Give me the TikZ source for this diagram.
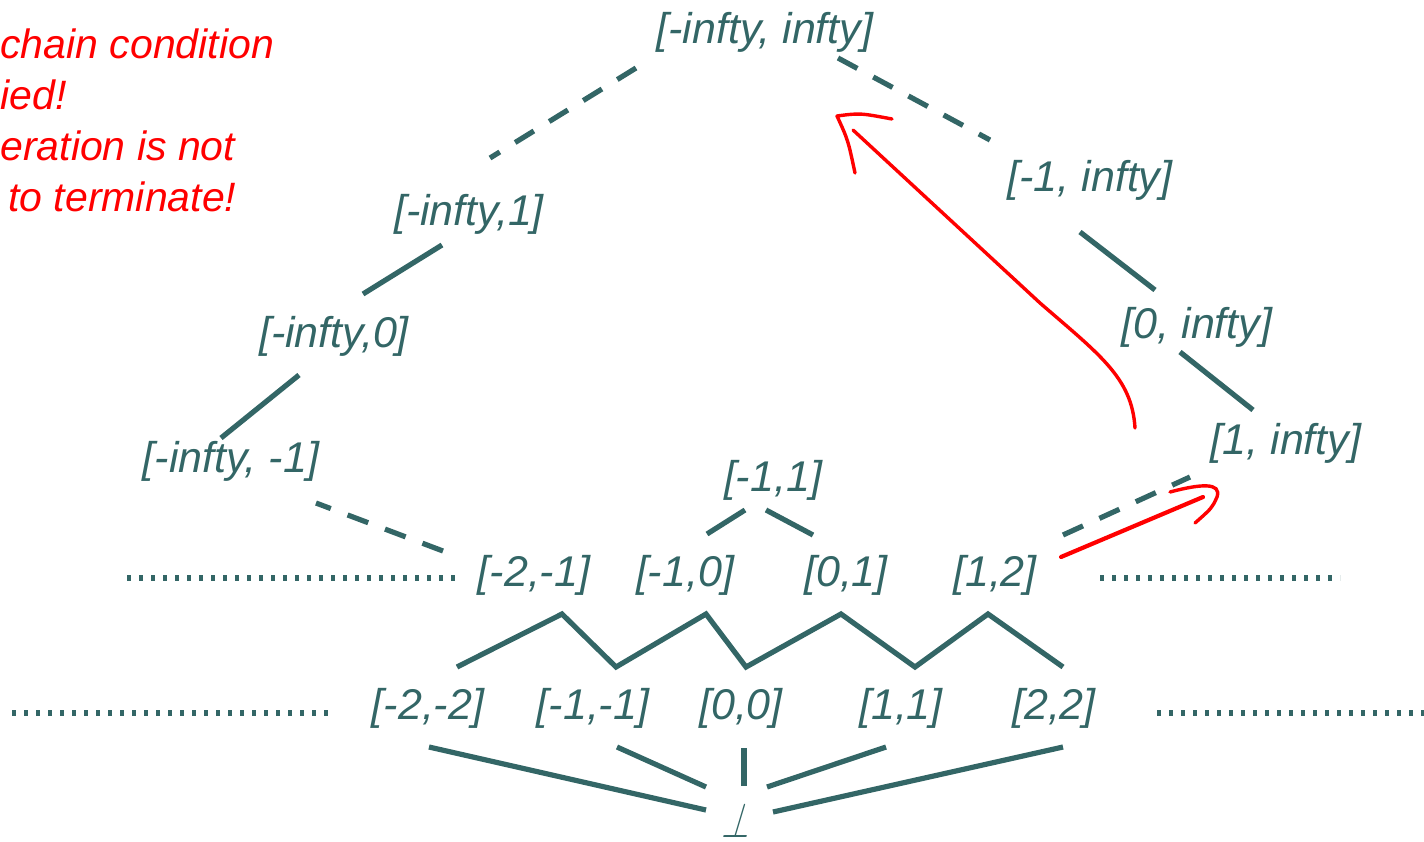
\documentclass[tikz,border=0pt]{standalone}
\usepackage{fontspec}
\setmainfont{Liberation Sans}
\usepackage{xcolor}
\definecolor{latteal}{RGB}{51,102,102}
\definecolor{latred}{RGB}{255,0,0}
\usetikzlibrary{calc}

\begin{document}
\begin{tikzpicture}[
  x=0.5pt,y=-0.5pt,
  elem/.style={text=latteal,font=\fontsize{21.5}{26}\selectfont\itshape,inner sep=0pt},
  edge/.style={draw=latteal,line width=2.6pt},
  dashedge/.style={edge,dash pattern=on 11pt off 9pt},
  dotedge/.style={edge,dash pattern=on 2.2pt off 3.8pt},
  note/.style={text=latred,font=\fontsize{20.5}{25.5}\selectfont\itshape,align=left,inner sep=0pt},
  ink/.style={draw=latred,line width=1.7pt,line cap=round,line join=round}
]
\useasboundingbox (0,0) rectangle (1424,841);
% Remark
\node[note,anchor=north west] (remark) at (0,28) {chain condition\\ied!\\eration is not\\\hspace*{4pt}to terminate!};
% Ascending chains
\node[elem] (top) at (765,32) {[-infty, infty]};
\node[elem] (lo1) at (469,214) {[-infty,1]};
\node[elem] (lo0) at (334,336) {[-infty,0]};
\node[elem] (lom1) at (231,461) {[-infty, -1]};
\node[elem] (upm1) at (1090,180) {[-1, infty]};
\node[elem] (up0) at (1197,327) {[0, infty]};
\node[elem] (up1) at (1286,443) {[1, infty]};
% Intervals of length one and two
\node[elem] (i11) at (773,480) {[-1,1]};
\node[elem] (i21) at (534,575) {[-2,-1]};
\node[elem] (i10) at (685,575) {[-1,0]};
\node[elem] (i01) at (846,575) {[0,1]};
\node[elem] (i12) at (995,575) {[1,2]};
% Singletons
\node[elem] (bm2) at (428,708) {[-2,-2]};
\node[elem] (bm1) at (593,708) {[-1,-1]};
\node[elem] (b0) at (741,708) {[0,0]};
\node[elem] (b1) at (901,708) {[1,1]};
\node[elem] (b2) at (1054,708) {[2,2]};
\begin{scope}[shift={(740,820)},xslant=0.3]
  \node[elem,transform shape,xscale=0.85,yscale=1.2] (bot) {$\perp$};
\end{scope}
% line ends
\coordinate (top-l) at (636,68);   \coordinate (lo1-t) at (490,158);
\coordinate (top-r) at (838,58);   \coordinate (upm1-t) at (990,140);
\coordinate (lo1-b) at (442,245);  \coordinate (lo0-t) at (363,294);
\coordinate (lo0-b) at (299,375);  \coordinate (lom1-t) at (221,438);
\coordinate (lom1-b) at (316,503); \coordinate (i21-t) at (443,551);
\coordinate (upm1-b) at (1080,232); \coordinate (up0-t) at (1155,290);
\coordinate (up0-b) at (1180,352); \coordinate (up1-t) at (1253,410);
\coordinate (up1-b) at (1190,477); \coordinate (i12-t) at (1063,535);
\coordinate (i11-l) at (745,510);  \coordinate (i10-t) at (707,534);
\coordinate (i11-r) at (766,510);  \coordinate (i01-t) at (813,535);
\foreach \n/\x/\y in {1/457/667,2/562/614,3/616/667,4/706/614,5/746/667,6/841/614,7/915/667,8/988/614,9/1063/667}
  \coordinate (z\n) at (\x,\y);
\foreach \n/\x/\y/\u/\v in {bm2/429/747/706/810,bm1/617/747/706/787,b0/744/748/744/786,b1/886/747/767/787,b2/1063/747/773/812}{
  \coordinate (\n-b) at (\x,\y);
  \coordinate (bot-\n) at (\u,\v);
}
% Order
\draw[dashedge] (top-l) -- (lo1-t);
\draw[dashedge] (top-r) -- (upm1-t);
\draw[edge] (lo1-b) -- (lo0-t);
\draw[edge] (lo0-b) -- (lom1-t);
\draw[dashedge] (i21-t) -- (lom1-b);
\draw[edge] (upm1-b) -- (up0-t);
\draw[edge] (up0-b) -- (up1-t);
\draw[dashedge] (i12-t) -- (up1-b);
\draw[edge] (i11-l) -- (i10-t);
\draw[edge] (i11-r) -- (i01-t);
\draw[edge] (z1) \foreach \n in {2,...,9}{ -- (z\n)};
\foreach \n in {bm2,bm1,b0,b1,b2}
  \draw[edge] (\n-b) -- (bot-\n);
% Infinitely many intervals
\draw[dotedge] (127,578) -- (456,578);
\draw[dotedge] (1100,578) -- (1340,578);
\draw[dotedge] (12,713) -- (328,713);
\draw[dotedge] (1157,713) -- (1424,713);
% Hand-drawn arrows
\draw[ink] (1135,428) .. controls (1132,378) and (1100,355) .. (1040,303) -- (853,130);
\draw[ink] (892,119) .. controls (860,113) .. (837,116) .. controls (848,140) .. (855,173);
\draw[ink,line width=2.1pt] (1061,557) -- (1203,497);
\draw[ink] (1170,492) .. controls (1200,484) and (1222,482) .. (1217,497) .. controls (1212,508) .. (1195,523);
\end{tikzpicture}
\end{document}
